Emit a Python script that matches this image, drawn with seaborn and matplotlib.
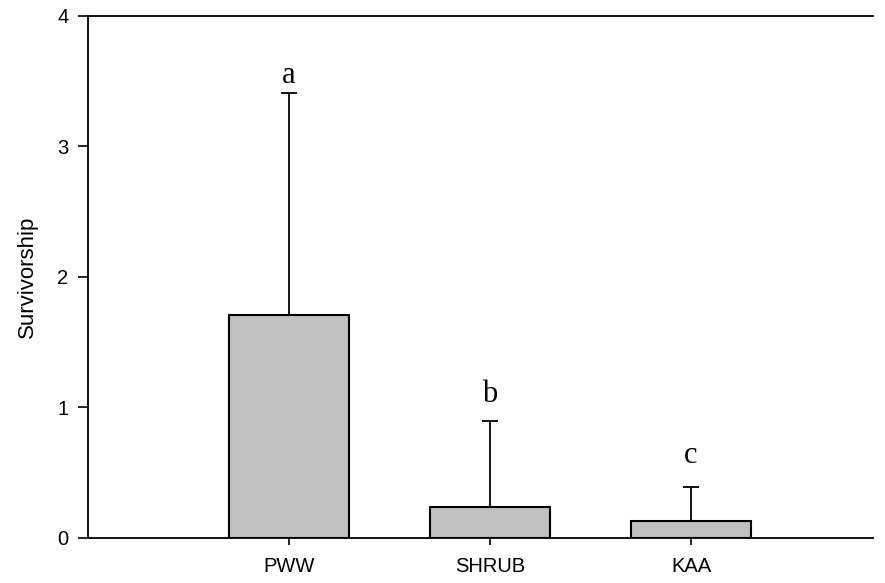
import pandas as pd
import matplotlib.pyplot as plt
import seaborn as sns

# data
sites = ["PWW", "SHRUB", "KAA"]
means = [1.71, 0.24, 0.13]
upper_err = [1.70, 0.66, 0.26]
letters = ["a", "b", "c"]
letter_y = [3.49, 1.04, 0.575]

df = pd.DataFrame({"site": sites, "mean": means, "err": upper_err})

sns.set_style("white")
plt.rcParams['font.family'] = ['Liberation Sans', 'DejaVu Sans']
plt.rcParams['text.color'] = 'black'
plt.rcParams['axes.labelcolor'] = 'black'
plt.rcParams['xtick.color'] = 'black'
plt.rcParams['ytick.color'] = 'black'

fig = plt.figure(figsize=(8.85, 5.83), dpi=100)
ax = fig.add_axes([0.0994, 0.0772, 0.887, 0.8954])

sns.barplot(data=df, x="site", y="mean", color="#c0c0c0", width=0.6,
            edgecolor="black", linewidth=1.5, errorbar=None, ax=ax)
for b in ax.patches:
    b.set_facecolor("#c0c0c0")
    b.set_alpha(1)

# one-sided error bars (upward only)
ax.errorbar(x=range(len(sites)), y=df["mean"], yerr=[[0] * len(sites), df["err"]],
            fmt="none", ecolor="black", elinewidth=1.3, capsize=6, capthick=1.3, zorder=1)

for i, (lab, y) in enumerate(zip(letters, letter_y)):
    ax.text(i, y, lab, ha="center", va="baseline", fontsize=22, color="black",
            family=["Liberation Serif", "DejaVu Serif"])

ax.set_xlim(-1.0, 2.905)
ax.set_ylim(0, 4)
ax.set_yticks([0, 1, 2, 3, 4])
ax.set_xlabel("")
ax.set_ylabel("Survivorship", fontsize=16, labelpad=14)

for s in ["left", "bottom", "top"]:
    ax.spines[s].set_visible(True)
    ax.spines[s].set_color("black")
    ax.spines[s].set_linewidth(1.3)
ax.spines["right"].set_visible(False)

ax.tick_params(axis="y", direction="out", length=7, width=1.2, labelsize=14.5, left=True, pad=7)
ax.tick_params(axis="x", direction="out", length=5, width=1.2, labelsize=14.5, bottom=True, pad=9)

plt.savefig("out.png", dpi=100)
